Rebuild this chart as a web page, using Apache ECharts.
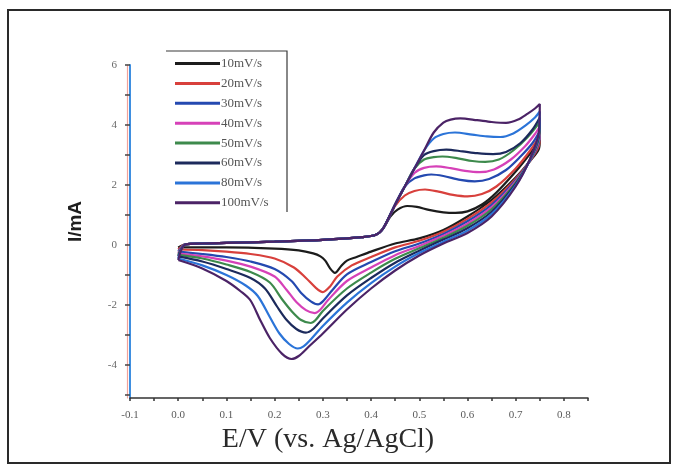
<!DOCTYPE html>
<html>
<head>
<meta charset="utf-8">
<script src="https://cdn.jsdelivr.net/npm/echarts@6/dist/echarts.min.js"></script>
<style>
html, body { margin: 0; padding: 0; background: #fff; }
#chart { width: 674px; height: 470px; }
</style>
</head>
<body>
<div id="chart"></div>
<script>
// Cyclic voltammograms at increasing scan rates: [E (V vs Ag/AgCl), I (mA)]
// Each loop: anodic sweep 0 -> 0.75 V, then cathodic sweep back to 0 V.
const scanRates = ['10mV/s', '20mV/s', '30mV/s', '40mV/s', '50mV/s', '60mV/s', '80mV/s', '100mV/s'];
const lineColors = ['#1c1c1c', '#d8403c', '#2449b0', '#d641b8', '#3d8a4c', '#1c2a5c', '#2b74d8', '#4b2366'];

const cv10 = [
  [0, -0.08], [0.015, 0.02], [0.05, 0.05], [0.1, 0.07], [0.2, 0.11], [0.3, 0.17], [0.38, 0.26], [0.41, 0.34],
  [0.425, 0.55], [0.44, 0.95], [0.455, 1.18], [0.475, 1.3], [0.495, 1.27], [0.52, 1.17], [0.55, 1.09], [0.575, 1.07],
  [0.6, 1.12], [0.63, 1.35], [0.66, 1.75], [0.7, 2.45], [0.73, 3.05], [0.75, 3.5],
  [0.748, 3.2], [0.73, 2.8], [0.7, 2.25], [0.65, 1.5], [0.6, 0.95], [0.55, 0.5], [0.5, 0.22], [0.45, 0.05],
  [0.4, -0.22], [0.37, -0.4], [0.35, -0.52], [0.338, -0.7], [0.325, -0.93], [0.315, -0.78], [0.305, -0.52],
  [0.295, -0.38], [0.28, -0.28], [0.25, -0.18], [0.2, -0.12], [0.1, -0.08], [0, -0.08]
];
const cv20 = [
  [0, -0.15], [0.015, 0.02], [0.05, 0.05], [0.1, 0.07], [0.2, 0.11], [0.3, 0.17], [0.38, 0.26], [0.41, 0.34],
  [0.425, 0.55], [0.45, 1.3], [0.47, 1.65], [0.49, 1.8], [0.512, 1.85], [0.54, 1.78], [0.57, 1.67], [0.6, 1.62],
  [0.63, 1.7], [0.66, 1.95], [0.7, 2.55], [0.73, 3.15], [0.75, 3.65],
  [0.748, 3.3], [0.73, 2.81], [0.7, 2.21], [0.65, 1.42], [0.6, 0.87], [0.55, 0.44], [0.5, 0.14], [0.45, -0.08],
  [0.4, -0.4], [0.36, -0.68], [0.33, -1.05], [0.315, -1.38], [0.3, -1.57], [0.285, -1.42], [0.265, -1.1],
  [0.24, -0.75], [0.2, -0.45], [0.15, -0.3], [0.1, -0.22], [0.05, -0.17], [0, -0.15]
];
const cv30 = [
  [0, -0.22], [0.015, 0.02], [0.05, 0.05], [0.1, 0.07], [0.2, 0.11], [0.3, 0.17], [0.38, 0.26], [0.41, 0.34],
  [0.425, 0.55], [0.45, 1.35], [0.47, 1.95], [0.49, 2.22], [0.51, 2.32], [0.525, 2.35], [0.55, 2.3], [0.585, 2.17],
  [0.615, 2.12], [0.645, 2.2], [0.68, 2.5], [0.71, 2.95], [0.735, 3.4], [0.75, 3.8],
  [0.748, 3.4], [0.73, 2.82], [0.7, 2.16], [0.65, 1.34], [0.6, 0.79], [0.55, 0.37], [0.5, 0.05], [0.45, -0.21],
  [0.4, -0.57], [0.35, -0.98], [0.32, -1.5], [0.3, -1.88], [0.29, -1.98], [0.275, -1.88], [0.255, -1.6],
  [0.235, -1.2], [0.2, -0.8], [0.15, -0.55], [0.1, -0.4], [0.05, -0.3], [0, -0.22]
];
const cv40 = [
  [0, -0.28], [0.015, 0.02], [0.05, 0.05], [0.1, 0.07], [0.2, 0.11], [0.3, 0.17], [0.38, 0.26], [0.41, 0.34],
  [0.425, 0.55], [0.45, 1.35], [0.47, 1.95], [0.49, 2.4], [0.51, 2.57], [0.535, 2.62], [0.565, 2.56], [0.595, 2.47],
  [0.625, 2.43], [0.655, 2.52], [0.69, 2.85], [0.72, 3.3], [0.74, 3.7], [0.75, 3.95],
  [0.748, 3.48], [0.73, 2.83], [0.7, 2.12], [0.65, 1.26], [0.6, 0.71], [0.55, 0.31], [0.5, -0.03], [0.45, -0.34],
  [0.4, -0.75], [0.35, -1.2], [0.31, -1.85], [0.295, -2.15], [0.283, -2.27], [0.265, -2.17], [0.245, -1.9],
  [0.225, -1.5], [0.2, -1.05], [0.15, -0.72], [0.1, -0.52], [0.05, -0.38], [0, -0.28]
];
const cv50 = [
  [0, -0.33], [0.015, 0.02], [0.05, 0.05], [0.1, 0.07], [0.2, 0.11], [0.3, 0.17], [0.38, 0.26], [0.41, 0.34],
  [0.425, 0.55], [0.45, 1.35], [0.47, 1.95], [0.49, 2.55], [0.51, 2.85], [0.53, 2.93], [0.548, 2.95], [0.58, 2.89],
  [0.61, 2.8], [0.637, 2.77], [0.665, 2.85], [0.695, 3.15], [0.725, 3.6], [0.75, 4.1],
  [0.748, 3.55], [0.73, 2.84], [0.7, 2.08], [0.65, 1.19], [0.6, 0.64], [0.55, 0.24], [0.5, -0.11], [0.45, -0.46],
  [0.4, -0.92], [0.35, -1.45], [0.3, -2.2], [0.285, -2.5], [0.275, -2.6], [0.255, -2.5], [0.235, -2.2],
  [0.215, -1.8], [0.19, -1.25], [0.15, -0.9], [0.1, -0.65], [0.05, -0.45], [0, -0.33]
];
const cv60 = [
  [0, -0.38], [0.015, 0.02], [0.05, 0.05], [0.1, 0.07], [0.2, 0.11], [0.3, 0.17], [0.38, 0.26], [0.41, 0.34],
  [0.425, 0.55], [0.45, 1.35], [0.47, 1.95], [0.49, 2.55], [0.51, 3.0], [0.53, 3.13], [0.556, 3.18], [0.59, 3.12],
  [0.62, 3.06], [0.653, 3.03], [0.68, 3.1], [0.71, 3.4], [0.735, 3.85], [0.75, 4.25],
  [0.748, 3.62], [0.73, 2.85], [0.7, 2.04], [0.65, 1.11], [0.6, 0.56], [0.55, 0.18], [0.5, -0.19], [0.45, -0.59],
  [0.4, -1.1], [0.35, -1.68], [0.3, -2.45], [0.28, -2.8], [0.265, -2.92], [0.245, -2.8], [0.225, -2.5],
  [0.205, -2.05], [0.18, -1.45], [0.15, -1.1], [0.1, -0.8], [0.05, -0.55], [0, -0.38]
];
const cv80 = [
  [0, -0.45], [0.015, 0.02], [0.05, 0.05], [0.1, 0.07], [0.2, 0.11], [0.3, 0.17], [0.38, 0.26], [0.41, 0.34],
  [0.425, 0.55], [0.45, 1.35], [0.47, 1.95], [0.49, 2.55], [0.51, 3.15], [0.53, 3.55], [0.55, 3.7], [0.574, 3.75],
  [0.61, 3.68], [0.64, 3.62], [0.668, 3.6], [0.695, 3.72], [0.72, 3.98], [0.74, 4.25], [0.75, 4.45],
  [0.748, 3.7], [0.73, 2.86], [0.7, 1.99], [0.65, 1.03], [0.6, 0.48], [0.55, 0.11], [0.5, -0.27], [0.45, -0.72],
  [0.4, -1.27], [0.35, -1.92], [0.3, -2.7], [0.275, -3.15], [0.26, -3.38], [0.248, -3.45], [0.23, -3.3],
  [0.21, -2.95], [0.19, -2.4], [0.165, -1.7], [0.14, -1.35], [0.1, -1.0], [0.05, -0.68], [0, -0.45]
];
const cv100 = [
  [0, -0.5], [0.015, 0.02], [0.05, 0.05], [0.1, 0.07], [0.2, 0.11], [0.3, 0.17], [0.38, 0.26], [0.41, 0.34],
  [0.425, 0.55], [0.45, 1.35], [0.47, 1.95], [0.49, 2.55], [0.51, 3.15], [0.53, 3.75], [0.55, 4.08], [0.565, 4.18],
  [0.585, 4.22], [0.62, 4.16], [0.65, 4.1], [0.68, 4.07], [0.705, 4.18], [0.725, 4.38], [0.74, 4.55], [0.75, 4.7],
  [0.748, 3.75], [0.73, 2.88], [0.7, 1.95], [0.65, 0.95], [0.6, 0.4], [0.55, 0.05], [0.5, -0.35], [0.45, -0.85],
  [0.4, -1.45], [0.35, -2.15], [0.3, -2.95], [0.27, -3.4], [0.25, -3.7], [0.235, -3.8], [0.215, -3.62],
  [0.19, -3.1], [0.17, -2.5], [0.15, -1.85], [0.13, -1.55], [0.1, -1.2], [0.05, -0.78], [0, -0.5]
];
const curves = [cv10, cv20, cv30, cv40, cv50, cv60, cv80, cv100];

// Axis ticks and labels
const xTickValues = [-0.1, -0.05, 0, 0.05, 0.1, 0.15, 0.2, 0.25, 0.3, 0.35, 0.4, 0.45, 0.5, 0.55, 0.6, 0.65, 0.7, 0.75, 0.8, 0.85];
const xLabelValues = [-0.1, 0, 0.1, 0.2, 0.3, 0.4, 0.5, 0.6, 0.7, 0.8];
const yTickValues = [-5, -4, -3, -2, -1, 0, 1, 2, 3, 4, 5, 6];
const yLabelValues = [-4, -2, 0, 2, 4, 6];

const serif = '"Liberation Serif", "DejaVu Serif", serif';

const chart = echarts.init(document.getElementById('chart'), null, { renderer: 'canvas' });

chart.setOption({
  backgroundColor: '#ffffff',
  animation: false,
  grid: { left: 130, top: 65, width: 458, height: 333, containLabel: false },
  legend: {
    orient: 'vertical',
    left: 170,
    top: 52,
    itemWidth: 45,
    itemHeight: 14,
    itemGap: 6.9,
    icon: 'path://M0,5.5 L45,5.5 L45,8.5 L0,8.5 Z',
    textStyle: { fontFamily: serif, fontSize: 13, color: '#555555', padding: [0, 0, 0, -4] },
    data: scanRates
  },
  xAxis: {
    type: 'value',
    min: -0.1,
    max: 0.85,
    name: 'E/V (vs. Ag/AgCl)',
    nameLocation: 'middle',
    nameGap: 28,
    nameTextStyle: { fontFamily: serif, fontSize: 28, color: '#2a2a2a', padding: [0, 62, 0, 0] },
    axisLine: { show: true, onZero: false, lineStyle: { color: '#333', width: 1.5 } },
    axisTick: { show: true, customValues: xTickValues, length: 3, lineStyle: { color: '#333', width: 1.5 } },
    axisLabel: {
      customValues: xLabelValues,
      margin: 12,
      fontFamily: serif,
      fontSize: 11,
      color: '#5a5a5a',
      formatter: v => v.toFixed(1)
    },
    splitLine: { show: false }
  },
  yAxis: [
    {
      type: 'value',
      min: -5.1,
      max: 6,
      name: 'I/mA',
      nameLocation: 'middle',
      nameGap: 45,
      nameTextStyle: {
        fontFamily: '"Liberation Sans", Arial, sans-serif', fontSize: 19, fontWeight: 'bold', color: '#1e1e1e',
        padding: [0, 0, 0, 20]
      },
      axisLine: { show: true, onZero: false, lineStyle: { color: '#3f8fe0', width: 2 } },
      axisTick: { show: true, customValues: yTickValues, length: 5, lineStyle: { color: '#444', width: 1.5 } },
      axisLabel: {
        customValues: yLabelValues,
        margin: 13,
        fontFamily: serif,
        fontSize: 11,
        color: '#6a6a6a',
        formatter: v => String(v)
      },
      splitLine: { show: false }
    },
    {
      // thin coloured rule just outside the main axis line
      type: 'value',
      min: -5.1,
      max: 6,
      position: 'left',
      offset: 3,
      axisLine: { show: true, onZero: false, lineStyle: { color: '#f2a29a', width: 1.2 } },
      axisTick: { show: false },
      axisLabel: { show: false },
      splitLine: { show: false }
    }
  ],
  graphic: [
    {
      type: 'rect',
      shape: { x: 8, y: 10, width: 662, height: 453 },
      style: { fill: 'none', stroke: '#2a2a2a', lineWidth: 2 },
      silent: true
    },
    {
      type: 'polyline',
      shape: { points: [[166, 51], [287, 51], [287, 212]] },
      style: { fill: 'none', stroke: '#3a3a3a', lineWidth: 1.2 },
      silent: true
    }
  ],
  series: curves.map((data, i) => ({
    name: scanRates[i],
    type: 'line',
    data: data,
    showSymbol: false,
    symbol: 'none',
    smooth: 0.3,
    lineStyle: { color: lineColors[i], width: 2.2 },
    itemStyle: { color: lineColors[i] },
    z: 2 + i
  }))
});
</script>
</body>
</html>
